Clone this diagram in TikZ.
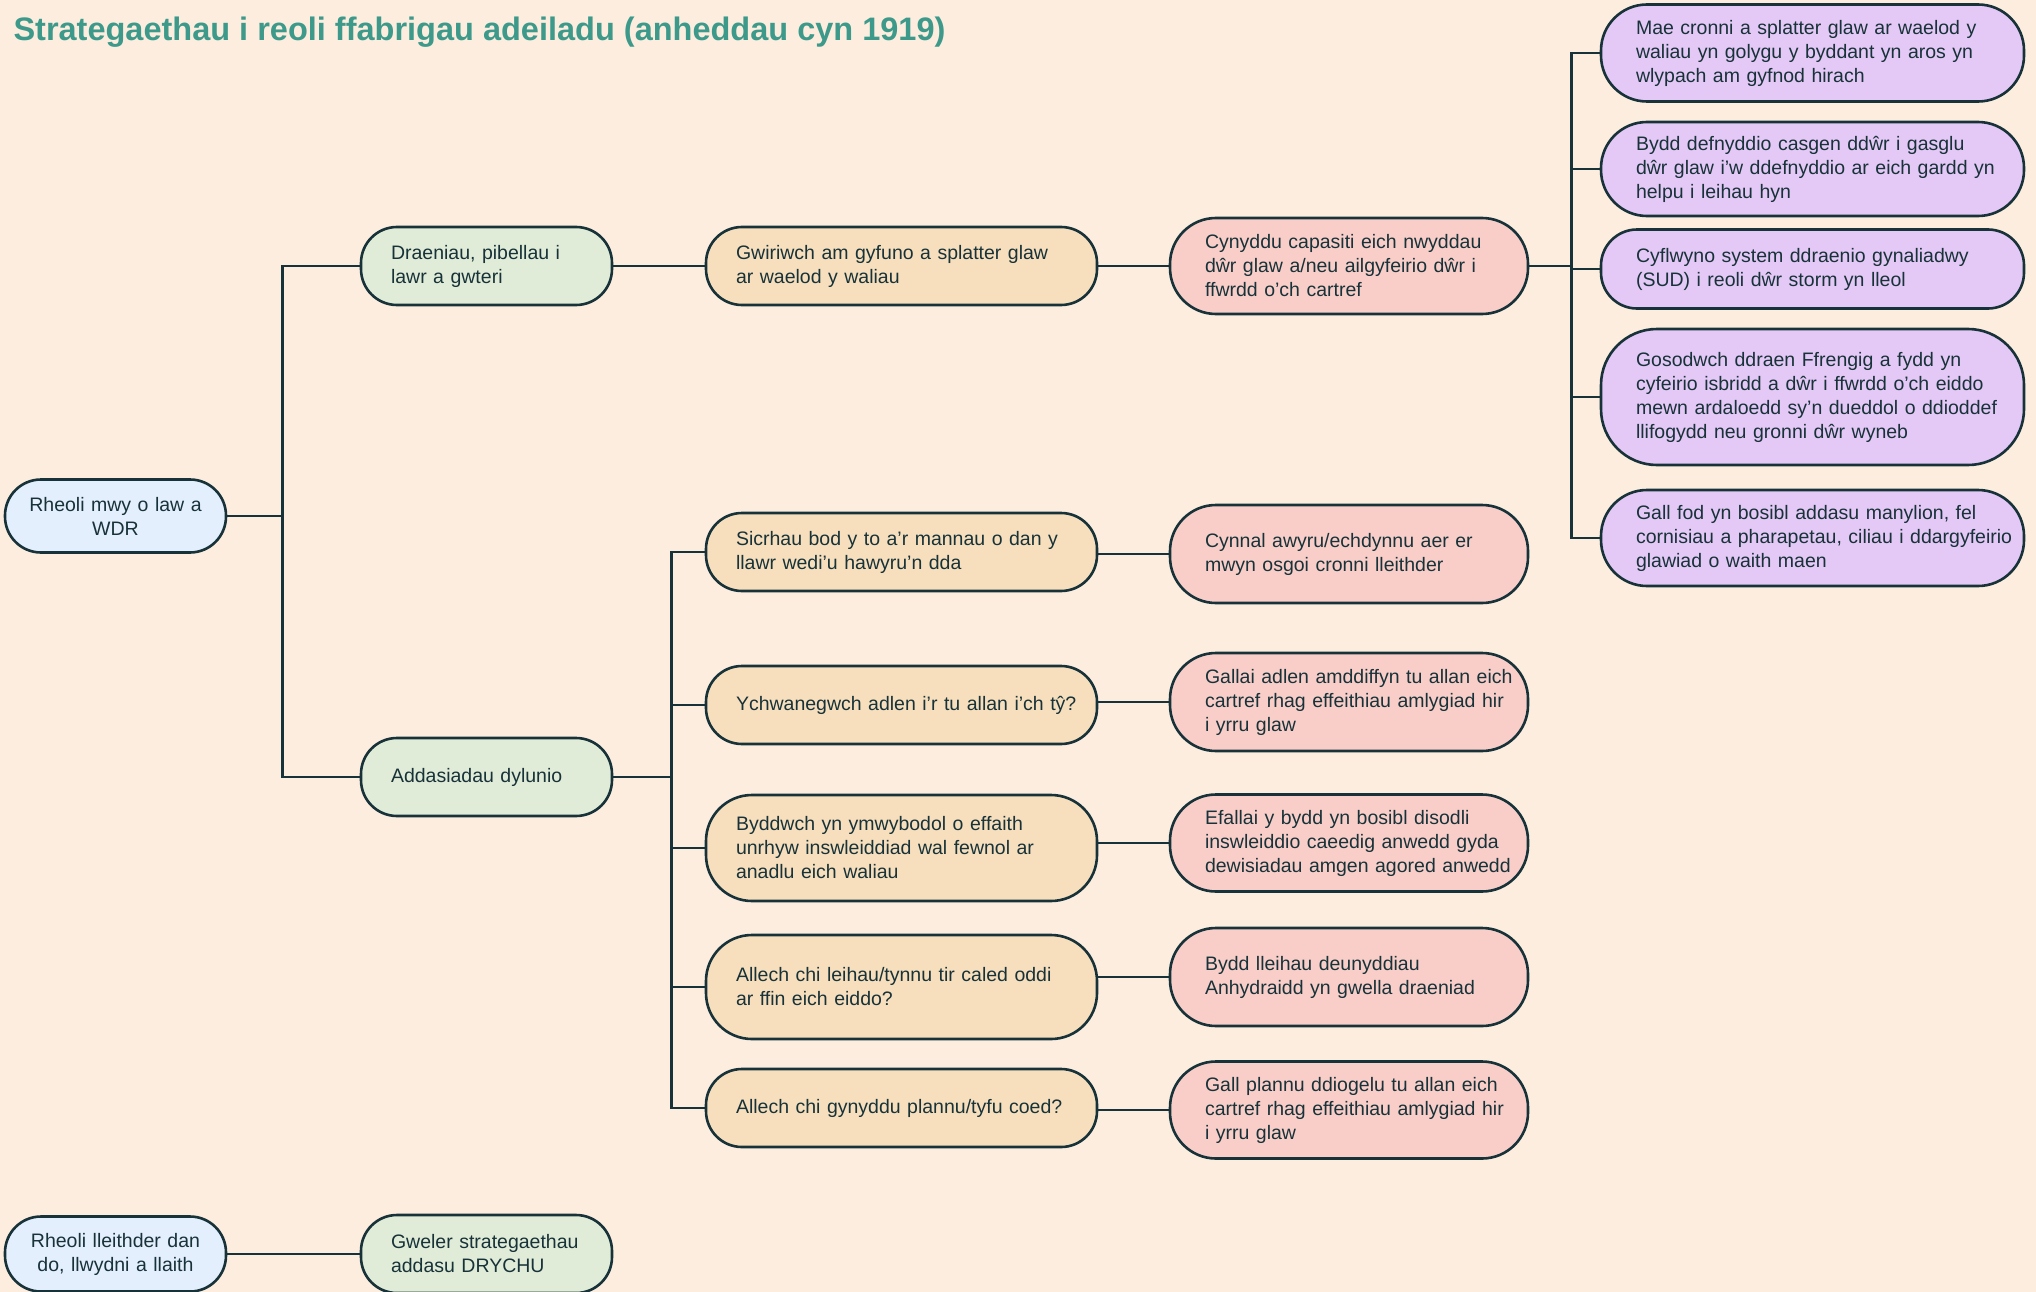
\documentclass[tikz,border=0pt]{standalone}
\usepackage{fontspec}
\setmainfont{Liberation Sans}
\definecolor{bgc}{HTML}{FDEDDF}
\definecolor{inkc}{HTML}{173238}
\definecolor{titlec}{HTML}{3D9A8A}
\definecolor{bluec}{HTML}{E4EFFD}
\definecolor{greenc}{HTML}{E1ECD8}
\definecolor{orangec}{HTML}{F7DFBD}
\definecolor{pinkc}{HTML}{F9CEC9}
\definecolor{purplec}{HTML}{E4C8F6}
\tikzset{
  pill/.style={draw=inkc,line width=2.6pt,rounded corners=36pt,inner ysep=4pt,text=inkc,
    font=\fontsize{19.5}{24}\selectfont,align=left},
  noflow/.style={execute at begin node={\rightskip=-80pt plus 1fil}},
  tall/.style={rounded corners=46pt},
  rootbox/.style={pill,fill=bluec,text width=181pt,inner xsep=20pt,align=center},
  topicbox/.style={pill,noflow,fill=greenc,text width=191pt,inner xsep=30pt},
  askbox/.style={pill,noflow,fill=orangec,text width=331pt,inner xsep=30pt},
  whybox/.style={pill,noflow,fill=pinkc,text width=288pt,inner xsep=35pt},
  morebox/.style={pill,noflow,fill=purplec,text width=353pt,inner xsep=35pt},
  wire/.style={draw=inkc,line width=2.8pt}
}
\begin{document}
\begin{tikzpicture}[x=1pt,y=-1pt]
\path[use as bounding box,fill=bgc](0,0)rectangle(2036,1292);
\node[anchor=base west,text=titlec,font=\fontsize{32.5}{36}\selectfont\bfseries](title)at(10,41){Strategaethau i reoli ffabrigau adeiladu (anheddau cyn 1919)};
% first column
\node[rootbox,minimum height=73pt](wdr)at(115.5,516){Rheoli mwy o law a\\WDR};
\node[rootbox,minimum height=75pt](damp)at(115.5,1254){Rheoli lleithder dan\\do, llwydni a llaith};
% second column
\node[topicbox,minimum height=78pt](drain)at(486.5,266){Draeniau, pibellau i\\lawr a gwteri};
\node[topicbox,minimum height=78pt](design)at(486.5,777){Addasiadau dylunio};
\node[topicbox,minimum height=78pt](seeal)at(486.5,1254){Gweler strategaethau\\addasu DRYCHU};
% third column
\node[askbox,minimum height=78pt](o1)at(901.5,266){Gwiriwch am gyfuno a splatter glaw\\ar waelod y waliau};
\node[askbox,minimum height=78pt](o2)at(901.5,552){Sicrhau bod y to a’r mannau o dan y\\llawr wedi’u hawyru’n dda};
\node[askbox,minimum height=78pt](o3)at(901.5,705){Ychwanegwch adlen i’r tu allan i’ch tŷ?};
\node[askbox,tall,minimum height=106pt](o4)at(901.5,848){Byddwch yn ymwybodol o effaith\\unrhyw inswleiddiad wal fewnol ar\\anadlu eich waliau};
\node[askbox,tall,minimum height=104pt](o5)at(901.5,987){Allech chi leihau/tynnu tir caled oddi\\ar ffin eich eiddo?};
\node[askbox,minimum height=78pt](o6)at(901.5,1108){Allech chi gynyddu plannu/tyfu coed?};
% fourth column
\node[whybox,tall,minimum height=96pt](p1)at(1349,266){Cynyddu capasiti eich nwyddau\\dŵr glaw a/neu ailgyfeirio dŵr i\\ffwrdd o’ch cartref};
\node[whybox,tall,minimum height=98pt](p2)at(1349,554){Cynnal awyru/echdynnu aer er\\mwyn osgoi cronni lleithder};
\node[whybox,tall,minimum height=98pt](p3)at(1349,702){Gallai adlen amddiffyn tu allan eich\\cartref rhag effeithiau amlygiad hir\\i yrru glaw};
\node[whybox,tall,minimum height=97pt](p4)at(1349,843){Efallai y bydd yn bosibl disodli\\inswleiddio caeedig anwedd gyda\\dewisiadau amgen agored anwedd};
\node[whybox,tall,minimum height=98pt](p5)at(1349,977){Bydd lleihau deunyddiau\\Anhydraidd yn gwella draeniad};
\node[whybox,tall,minimum height=97pt](p6)at(1349,1110){Gall plannu ddiogelu tu allan eich\\cartref rhag effeithiau amlygiad hir\\i yrru glaw};
% fifth column
\node[morebox,tall,minimum height=97pt](u1)at(1812.5,53){Mae cronni a splatter glaw ar waelod y\\waliau yn golygu y byddant yn aros yn\\wlypach am gyfnod hirach};
\node[morebox,tall,minimum height=94pt](u2)at(1812.5,169){Bydd defnyddio casgen ddŵr i gasglu\\dŵr glaw i’w ddefnyddio ar eich gardd yn\\helpu i leihau hyn};
\node[morebox,minimum height=79pt](u3)at(1812.5,269){Cyflwyno system ddraenio gynaliadwy\\(SUD) i reoli dŵr storm yn lleol};
\node[morebox,rounded corners=56pt,minimum height=136pt](u4)at(1812.5,397){Gosodwch ddraen Ffrengig a fydd yn\\cyfeirio isbridd a dŵr i ffwrdd o’ch eiddo\\mewn ardaloedd sy’n dueddol o ddioddef\\llifogydd neu gronni dŵr wyneb};
\node[morebox,tall,minimum height=96pt](u5)at(1812.5,538){Gall fod yn bosibl addasu manylion, fel\\cornisiau a pharapetau, ciliau i ddargyfeirio\\glawiad o waith maen};
% connectors
\foreach \n in {drain,design}
  \draw[wire](wdr.east)--++(55,0)|-(\n.west);
\draw[wire](drain.east)--(o1.west);
\draw[wire](o1.east)--(p1.west);
\foreach \i in {2,...,6}
  \draw[wire](design.east)--++(58,0)|-(o\i.west);
\foreach \i in {2,...,6}
  \draw[wire](p\i.west-|o\i.east)--(p\i.west);
\foreach \i in {1,...,5}
  \draw[wire](p1.east)--++(42,0)|-(u\i.west);
\draw[wire](damp.east)--(seeal.west);
\end{tikzpicture}
\end{document}
